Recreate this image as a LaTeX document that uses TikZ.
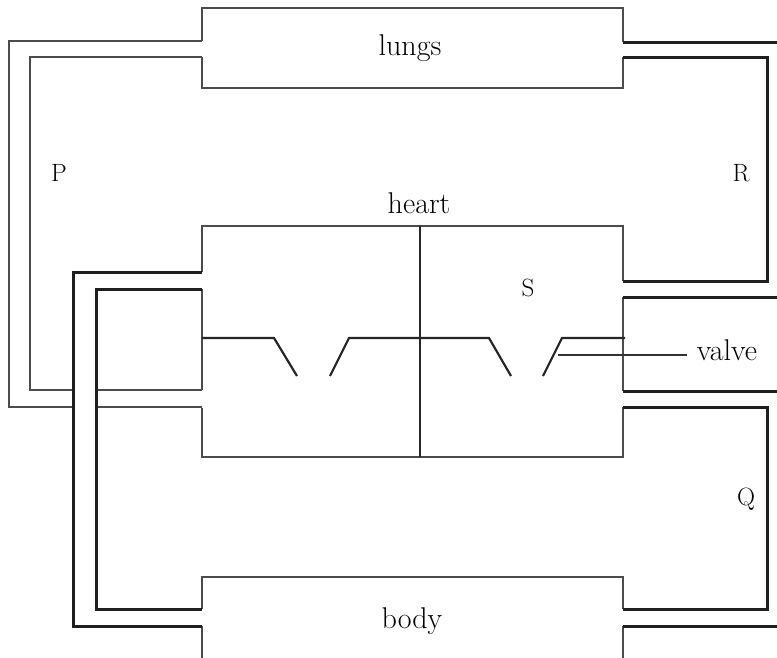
\documentclass[tikz,border=0pt]{standalone}
\usepackage{tikz}

\begin{document}
\begin{tikzpicture}[x=1pt, y=-1pt, line join=miter,
  wall/.style = {draw=black!70, line width=1.8pt},
  pipe/.style = {draw=black!88, line width=3pt},
  flap/.style = {draw=black!85, line width=2.2pt},
  word/.style = {anchor=base, font=\fontsize{30}{32}\selectfont},
  letter/.style = {anchor=base, font=\fontsize{25}{28}\selectfont}]
\useasboundingbox (0,0) rectangle (777,657);

% lungs
\draw[wall] (202,41) -- (202,8) -- (623,8) -- (623,42);
\draw[wall] (202,57) -- (202,88) -- (623,88) -- (623,57);
% heart
\draw[wall] (202,272) -- (202,226) -- (623,226) -- (623,281);
\draw[wall] (202,408) -- (202,457) -- (623,457) -- (623,407);
\draw[wall] (202,289) -- (202,390);
\draw[wall] (623,297) -- (623,391);
% body
\draw[wall] (202,609) -- (202,577) -- (623,577) -- (623,609);
\draw[wall] (202,626) -- (202,660);
\draw[wall] (623,626) -- (623,660);

% pipe P (passes under Q)
\draw[wall] (202,41) -- (9,41) -- (9,407) -- (73,407);
\draw[wall] (96,407) -- (202,407);
\draw[wall] (202,57) -- (30,57) -- (30,390) -- (73,390);
\draw[wall] (96,390) -- (202,390);

% pipe Q
\draw[pipe] (202,272) -- (73,272) -- (73,626) -- (202,626);
\draw[pipe] (202,289) -- (96,289) -- (96,609) -- (202,609);
\draw[pipe] (623,609) -- (767,609) -- (767,407) -- (623,407);
\draw[pipe] (623,626) -- (780,626);
% pipe R
\draw[pipe] (623,42) -- (780,42);
\draw[pipe] (623,57) -- (767,57) -- (767,281) -- (623,281);
% pipe S
\draw[pipe] (623,297) -- (780,297);
\draw[pipe] (623,391) -- (780,391);

% septum and valves
\draw[flap] (420,226) -- (420,457);
\draw[flap] (202,338) -- (274,338) -- (297,376);
\draw[flap] (330,376) -- (349,338) -- (489,338) -- (511,376);
\draw[flap] (543,376) -- (562,338) -- (625,338);

% labels
\node[word] (lungs) at (410,55) {lungs};
\node[word] (heart) at (419,213) {heart};
\node[word] (body) at (412,628) {body};
\node[word] (valve) at (727,360) {valve};
\node[letter] (P) at (59,181) {P};
\node[letter] (R) at (741,181) {R};
\node[letter] (S) at (528,296) {S};
\node[letter] (Q) at (746,505) {Q};

\coordinate (tip) at (558,355);
\draw[black!80, line width=1.3pt] (tip) -- ([xshift=-6pt] tip -| valve.west);
\end{tikzpicture}
\end{document}
